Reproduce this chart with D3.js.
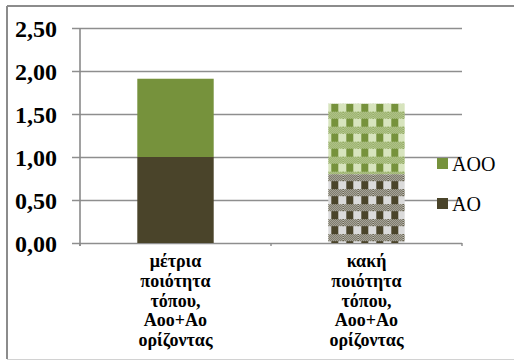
<!DOCTYPE html>
<html>
<head>
<meta charset="utf-8">
<script src="https://cdn.jsdelivr.net/npm/d3@7/dist/d3.min.js"></script>
<style>
  html, body { margin: 0; padding: 0; background: #fff; }
  svg { display: block; }
</style>
</head>
<body>
<svg id="chart" width="514" height="360"></svg>
<script>
// Categories (each label broken into its printed lines)
const categories = ["μέτρια", "κακή"];
const categoryLines = [
  ["μέτρια", "ποιότητα", "τόπου,", "Aoo+Ao", "ορίζοντας"],
  ["κακή", "ποιότητα", "τόπου,", "Aoo+Ao", "ορίζοντας"]
];
// Stacked series, bottom to top
const seriesNames = ["AO", "AOO"];
const aoValues = [1.00, 0.80];
const aooValues = [0.91, 0.82];
// Value axis ticks
const yTicks = [0, 0.5, 1.0, 1.5, 2.0, 2.5];
const yTickLabels = ["0,00", "0,50", "1,00", "1,50", "2,00", "2,50"];

const FONT = "Liberation Serif";
const colors = { AO: "#4a442a", AOO: "#76923c" };
const lightColors = { AO: "#dadada", AOO: "#d7e4bd" };

const svg = d3.select("#chart");
const plot = { left: 80, right: 462, top: 28, bottom: 243 };

const x = d3.scaleBand().domain(categories).range([plot.left, plot.right]).paddingInner(0).paddingOuter(0);
const y = d3.scaleLinear().domain([0, 2.5]).range([plot.bottom, plot.top]);
const barW = x.bandwidth() * 0.4;
const barOffset = (x.bandwidth() - barW) / 2;

// Outer frame (cut off on the right edge)
svg.append("line").attr("x1", 7).attr("x2", 514).attr("y1", 6).attr("y2", 6)
  .attr("stroke", "#8c8c8c").attr("stroke-width", 2);
svg.append("line").attr("x1", 7).attr("x2", 7).attr("y1", 6).attr("y2", 359)
  .attr("stroke", "#8c8c8c").attr("stroke-width", 2);
svg.append("line").attr("x1", 7).attr("x2", 514).attr("y1", 359.5).attr("y2", 359.5)
  .attr("stroke", "#d2d2d2").attr("stroke-width", 1);

// Gridlines with outer tick marks
const yAxis = d3.axisLeft(y).tickValues(yTicks)
  .tickSize(-(plot.right - plot.left)).tickSizeOuter(0)
  .tickFormat((d, i) => yTickLabels[i]);
const gy = svg.append("g").attr("transform", `translate(${plot.left},0)`).call(yAxis)
  .attr("font-family", FONT).attr("font-size", 24).attr("font-weight", "bold");
gy.select(".domain").remove();
gy.selectAll(".tick line")
  .attr("x1", -8)
  .attr("stroke", "#8e8e8e").attr("stroke-width", 1.6);
gy.selectAll(".tick text")
  .attr("x", -23).attr("dy", "0.34em")
  .attr("fill", "#000")
  .attr("font-family", FONT);

// Vertical axis line
svg.append("line").attr("x1", plot.left).attr("x2", plot.left)
  .attr("y1", plot.top).attr("y2", plot.bottom + 3)
  .attr("stroke", "#8a8a8a").attr("stroke-width", 1.6);

// Category axis ticks at the band boundaries
const bounds = categories.map(c => x(c)).concat([plot.right]);
svg.append("g").selectAll("line").data(bounds).join("line")
  .attr("x1", d => d).attr("x2", d => d)
  .attr("y1", plot.bottom).attr("y2", plot.bottom + 3)
  .attr("stroke", "#8a8a8a").attr("stroke-width", 1.4);

// Fill patterns for the second (hatched) column
const defs = svg.append("defs");
function dither(id, dark, light) {
  const p = defs.append("pattern").attr("id", id)
    .attr("patternUnits", "userSpaceOnUse").attr("width", 2).attr("height", 2);
  p.append("rect").attr("width", 2).attr("height", 2).attr("fill", light);
  p.append("rect").attr("width", 1).attr("height", 1).attr("fill", dark);
  p.append("rect").attr("x", 1).attr("y", 1).attr("width", 1).attr("height", 1).attr("fill", dark);
}
function plaid(id, key, px, py) {
  dither(id + "-d", colors[key], lightColors[key]);
  const p = defs.append("pattern").attr("id", id)
    .attr("patternUnits", "userSpaceOnUse")
    .attr("x", px).attr("y", py).attr("width", 15).attr("height", 15);
  p.append("rect").attr("width", 15).attr("height", 15).attr("fill", lightColors[key]);
  p.append("rect").attr("y", 0).attr("width", 15).attr("height", 7).attr("fill", `url(#${id}-d)`);
  p.append("rect").attr("x", 3).attr("y", 7).attr("width", 7).attr("height", 8).attr("fill", colors[key]);
}

const table = categories.map((c, i) => ({ cat: c, AO: aoValues[i], AOO: aooValues[i] }));
const stack = d3.stack().keys(seriesNames)(table);

stack.forEach(layer => {
  const key = layer.key;
  layer.forEach((d, i) => {
    const bx = x(d.data.cat) + barOffset;
    const top = y(d[1]);
    let fill = colors[key];
    if (i === 1) {
      const id = `plaid-${key}`;
      plaid(id, key, bx, key === "AO" ? top : top - 7);
      fill = `url(#${id})`;
    }
    svg.append("rect")
      .attr("x", bx).attr("width", barW)
      .attr("y", top).attr("height", y(d[0]) - top)
      .attr("fill", fill);
  });
});

// Category labels
const labels = svg.append("g");
categories.forEach((c, i) => {
  const t = labels.append("text")
    .attr("text-anchor", "middle")
    .attr("x", x(c) + x.bandwidth() / 2)
    .attr("y", plot.bottom + 24)
    .attr("fill", "#000")
    .attr("font-family", FONT)
    .attr("font-size", 18).attr("font-weight", "bold");
  categoryLines[i].forEach((line, j) => {
    t.append("tspan").attr("x", x(c) + x.bandwidth() / 2)
      .attr("dy", j === 0 ? 0 : 19.8).text(line);
  });
});

// Legend (top series first)
const legendItems = seriesNames.slice().reverse();
const legend = svg.append("g").attr("transform", "translate(437,158)");
legendItems.forEach((name, i) => {
  const g = legend.append("g").attr("transform", `translate(0,${i * 40})`);
  g.append("rect").attr("width", 11).attr("height", 11).attr("fill", colors[name]);
  g.append("text").attr("x", 15).attr("y", 13)
    .attr("fill", "#000").attr("font-family", FONT)
    .attr("font-size", 20).text(name);
});
</script>
</body>
</html>
